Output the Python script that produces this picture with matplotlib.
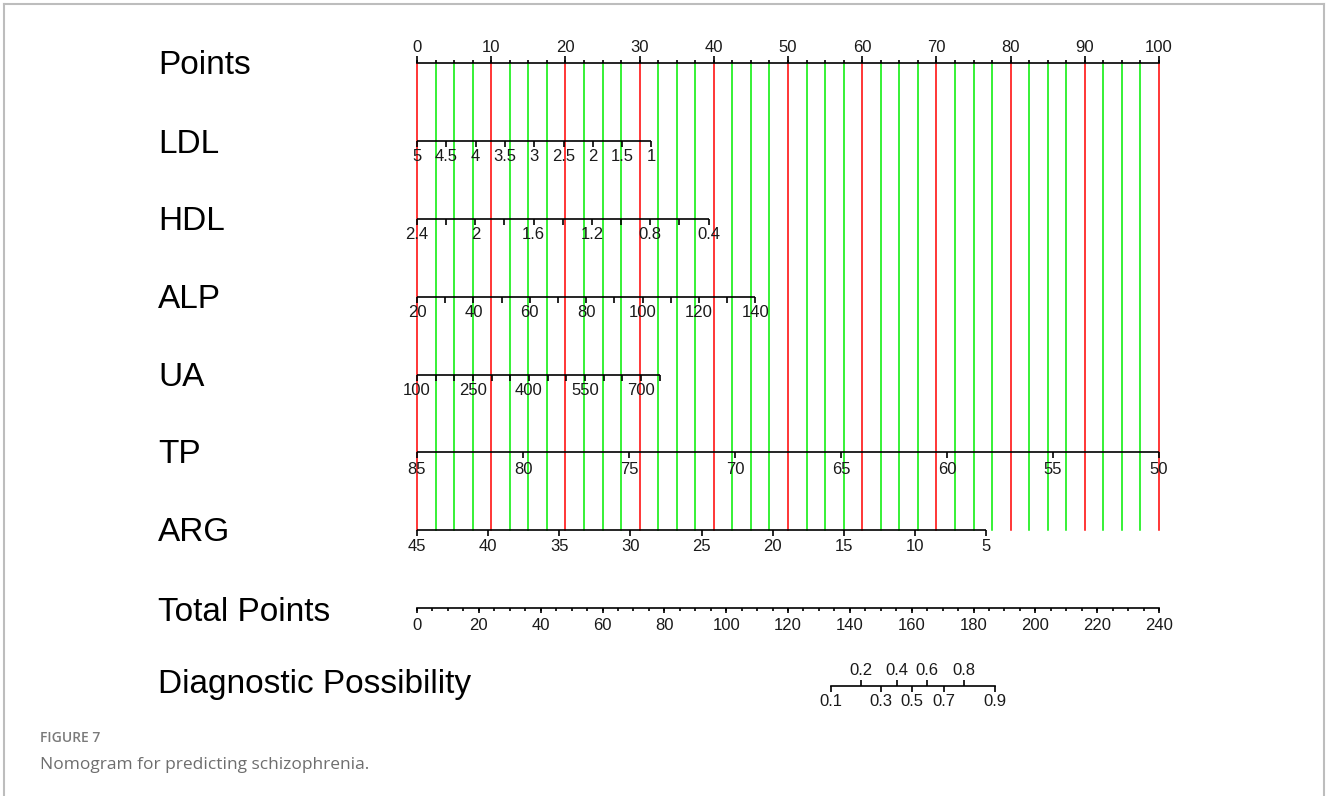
import numpy as np
import matplotlib
matplotlib.use("Agg")
import matplotlib.pyplot as plt
from matplotlib.transforms import blended_transform_factory

# nomogram rows (top to bottom)
row_names = ["Points", "LDL", "HDL", "ALP", "UA", "TP", "ARG",
             "Total Points", "Diagnostic Possibility"]

# Points scale
points_major = [0, 10, 20, 30, 40, 50, 60, 70, 80, 90, 100]

# predictor scales: value labels and the points they sit at
ldl_labels = ["5", "4.5", "4", "3.5", "3", "2.5", "2", "1.5", "1"]
ldl_points = [0, 3.95, 7.9, 11.85, 15.8, 19.75, 23.7, 27.65, 31.6]

hdl_labels = ["2.4", "", "2", "", "1.6", "", "1.2", "", "0.8", "", "0.4"]
hdl_points = [0, 3.93, 7.86, 11.79, 15.72, 19.65, 23.58, 27.51, 31.44, 35.37, 39.3]

alp_labels = ["20", "", "40", "", "60", "", "80", "", "100", "", "120", "", "140"]
alp_points = [0, 3.8, 7.6, 11.4, 15.2, 19.0, 22.8, 26.6, 30.4, 34.2, 38.0, 41.8, 45.6]

ua_labels = ["100", "", "", "250", "", "", "400", "", "", "550", "", "", "700", ""]
ua_points = [0, 2.52, 5.03, 7.55, 10.06, 12.58, 15.09, 17.61, 20.12, 22.64,
             25.15, 27.67, 30.18, 32.7]

tp_labels = ["85", "80", "75", "70", "65", "60", "55", "50"]
tp_points = [0, 14.29, 28.57, 42.86, 57.14, 71.43, 85.71, 100]

arg_labels = ["45", "40", "35", "30", "25", "20", "15", "10", "5"]
arg_points = [0, 9.59, 19.18, 28.76, 38.35, 47.94, 57.53, 67.11, 76.7]

# total points scale
total_major = [0, 20, 40, 60, 80, 100, 120, 140, 160, 180, 200, 220, 240]
total_max = 240

# diagnostic possibility on the total points scale
diag_labels = ["0.1", "0.2", "0.3", "0.4", "0.5", "0.6", "0.7", "0.8", "0.9"]
diag_total = [133.8, 143.6, 150.1, 155.1, 160.2, 165.0, 170.5, 177.0, 186.9]

W, H = 1328, 796
fig = plt.figure(figsize=(W / 100, H / 100), dpi=100)
fig.patch.set_facecolor("white")

y_top, y_bot = 63, 686            # pixel rows of Points / Diagnostic axes
x_left, x_right = 417, 1159       # pixel of 0 and 100 points
ax = fig.add_axes([x_left / W, 1 - y_bot / H, (x_right - x_left) / W, (y_bot - y_top) / H])
ax.set_xlim(0, 100)
ax.set_ylim(8, 0)
ax.axis("off")

px = 8 / (y_bot - y_top)          # row units per pixel
tick_font = dict(family="Liberation Sans", fontsize=12, color="#1a1a1a")
lw_axis = 1.2

# red / green guide lines every 2.5 points
grid = np.arange(0, 100.01, 2.5)
for g in grid:
    col = "#ff0000" if abs(g % 10) < 1e-9 else "#00ee00"
    ax.plot([g, g], [0, 6], color=col, lw=1.1, zorder=1, clip_on=False)


def scale_row(row, pts, labels, down=True, tick=6, off=16):
    ax.plot([pts[0], pts[-1]], [row, row], color="black", lw=lw_axis, zorder=3,
            solid_capstyle="butt", clip_on=False)
    s = 1 if down else -1
    ax.vlines(pts, row, row + s * tick * px, color="black", lw=lw_axis, zorder=3,
              clip_on=False)
    for p, lab in zip(pts, labels):
        if lab:
            ax.text(p, row + s * off * px, lab, ha="center", va="center",
                    zorder=4, clip_on=False, **tick_font)


# Points axis: labels above, ticks upward
ax.plot([0, 100], [0, 0], color="black", lw=lw_axis, zorder=3, clip_on=False)
ax.vlines(grid, 0, -3 * px, color="black", lw=lw_axis, zorder=3, clip_on=False)
ax.vlines(points_major, 0, -7 * px, color="black", lw=lw_axis, zorder=3, clip_on=False)
for p in points_major:
    ax.text(p, -16 * px, str(p), ha="center", va="center", zorder=4, **tick_font)

scale_row(1, ldl_points, ldl_labels)
scale_row(2, hdl_points, hdl_labels)
scale_row(3, alp_points, alp_labels)
scale_row(4, ua_points, ua_labels)
scale_row(5, tp_points, tp_labels, off=17)
scale_row(6, arg_points, arg_labels, off=16)

# Total points
tot_x = [t * 100 / total_max for t in total_major]
minor_x = np.arange(0, total_max + 0.1, 5) * 100 / total_max
ax.plot([0, 100], [7, 7], color="black", lw=lw_axis, zorder=3, clip_on=False)
ax.vlines(minor_x, 7, 7 + 3 * px, color="black", lw=lw_axis, zorder=3, clip_on=False)
ax.vlines(tot_x, 7, 7 + 5 * px, color="black", lw=lw_axis, zorder=3, clip_on=False)
for x, t in zip(tot_x, total_major):
    ax.text(x, 7 + 17 * px, str(t), ha="center", va="center", zorder=4, **tick_font)

# Diagnostic possibility: alternating labels above / below
dx = [t * 100 / total_max for t in diag_total]
ax.plot([dx[0], dx[-1]], [8, 8], color="black", lw=lw_axis, zorder=3, clip_on=False)
for i, (x, lab) in enumerate(zip(dx, diag_labels)):
    up = i % 2 == 1
    s = -1 if up else 1
    ax.vlines(x, 8, 8 + s * 6 * px, color="black", lw=lw_axis, zorder=3, clip_on=False)
    ax.text(x, 8 + s * 15.5 * px, lab, ha="center", va="center", zorder=4,
            clip_on=False, **tick_font)

# row names
tr = blended_transform_factory(fig.transFigure, ax.transData)
name_off = [3, 4, 3, 3, 3, 2, 2, 4, -1]
for i, name in enumerate(row_names):
    ax.text(158 / W, i + name_off[i] * px, name, transform=tr, ha="left", va="center",
            family="Liberation Sans", fontsize=24, color="black", clip_on=False)

# page frame
frame_col = "#bdbdbd"
fig.add_artist(plt.Line2D([4 / W, 4 / W], [0, 1 - 4 / H], color=frame_col, lw=1.5))
fig.add_artist(plt.Line2D([4 / W, 1 - 4 / W], [1 - 4 / H, 1 - 4 / H], color=frame_col, lw=1.5))
fig.add_artist(plt.Line2D([1 - 4 / W, 1 - 4 / W], [0, 1 - 4 / H], color=frame_col, lw=1.5))

# caption
fig.text(40 / W, 1 - 738 / H, "FIGURE 7", family="Open Sans", fontsize=10,
         fontweight="semibold", color="#7a7a7a", va="center", ha="left")
fig.text(40 / W, 1 - 765 / H, "Nomogram for predicting schizophrenia.",
         family="Open Sans", fontsize=12.5, color="#6e6e6e", va="center", ha="left")

fig.savefig("out.png", dpi=100, facecolor="white")
